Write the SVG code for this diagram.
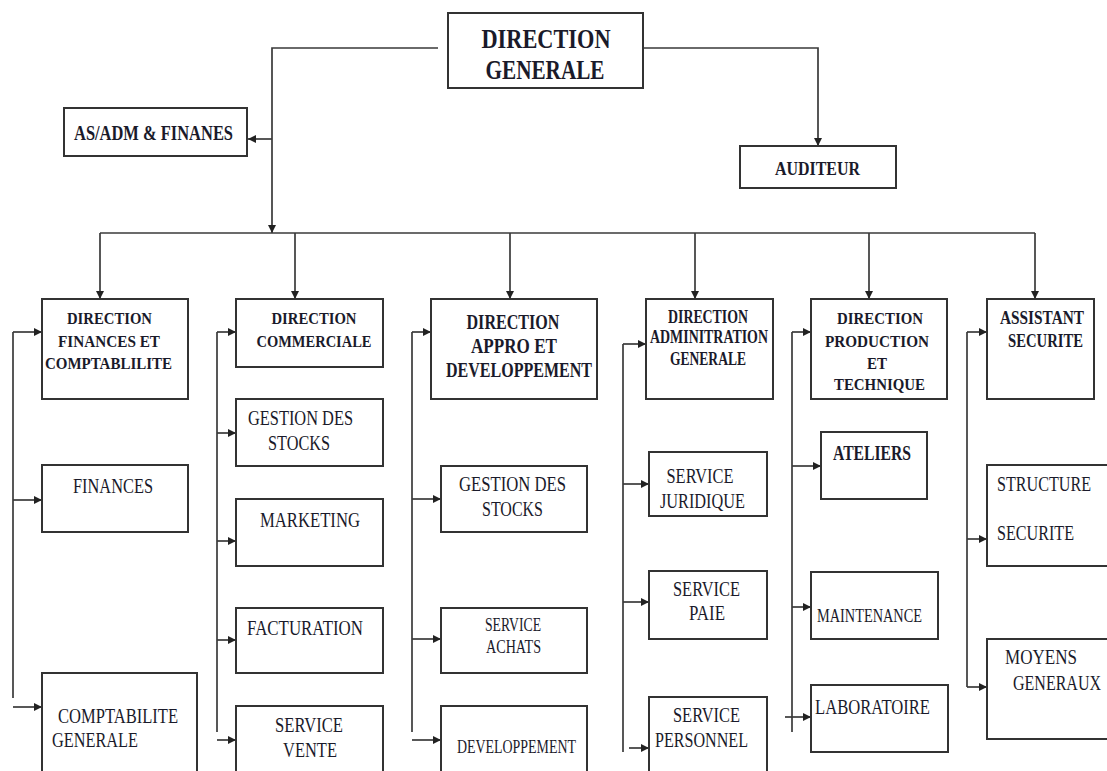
<svg xmlns="http://www.w3.org/2000/svg" width="1107" height="771" viewBox="0 0 1107 771">
<style>
.box{fill:#fff;stroke:#333;stroke-width:2}
.ln{fill:none;stroke:#3a3a3a;stroke-width:1.7}
.ar{marker-end:url(#ah)}
text{font-family:"Liberation Serif","Times New Roman",serif;fill:#1a1a2a}
.b{font-weight:bold}
.m{text-anchor:middle}
</style>
<defs>
<marker id="ah" markerUnits="userSpaceOnUse" markerWidth="9" markerHeight="9" refX="8" refY="4.5" orient="auto">
<path d="M0,0.5 L8,4.5 L0,8.5 z" fill="#222"/>
</marker>
</defs>
<rect width="1107" height="771" fill="#fff"/>

<g id="connectors">
<path class="ln" d="M438,48 H272 V233" marker-end="url(#ah)"/>
<path class="ln ar" d="M272,139 H248"/>
<path class="ln ar" d="M643,48 H818 V146"/>
<path class="ln" d="M100,233 H1035"/>
<path class="ln ar" d="M100,233 V299"/>
<path class="ln ar" d="M295,233 V299"/>
<path class="ln ar" d="M510,233 V299"/>
<path class="ln ar" d="M695,233 V299"/>
<path class="ln ar" d="M869,233 V299"/>
<path class="ln ar" d="M1035,233 V299"/>
<path class="ln" d="M13,698 V332"/>
<path class="ln ar" d="M13,332 H42"/>
<path class="ln ar" d="M13,500 H42"/>
<path class="ln ar" d="M13,707 H42"/>
<path class="ln" d="M217,732 V332"/>
<path class="ln ar" d="M217,332 H236"/>
<path class="ln ar" d="M217,433 H236"/>
<path class="ln ar" d="M217,541 H236"/>
<path class="ln ar" d="M217,640 H236"/>
<path class="ln ar" d="M217,740 H236"/>
<path class="ln" d="M412,732 V332"/>
<path class="ln ar" d="M412,332 H431"/>
<path class="ln ar" d="M412,499 H441"/>
<path class="ln ar" d="M412,639 H441"/>
<path class="ln ar" d="M412,740 H441"/>
<path class="ln" d="M623,752 V344"/>
<path class="ln ar" d="M623,344 H646"/>
<path class="ln ar" d="M623,484 H649"/>
<path class="ln ar" d="M623,602 H649"/>
<path class="ln ar" d="M629,748 H649"/>
<path class="ln" d="M792,732 V332"/>
<path class="ln ar" d="M792,332 H811"/>
<path class="ln ar" d="M792,466 H821"/>
<path class="ln ar" d="M792,607 H811"/>
<path class="ln ar" d="M785,717 H811"/>
<path class="ln" d="M967,687 V332"/>
<path class="ln ar" d="M967,332 H987"/>
<path class="ln ar" d="M967,539 H987"/>
<path class="ln ar" d="M967,687 H987"/>
</g>

<g id="dg"><rect class="box" x="448" y="13" width="195" height="75"/>
<text class="b m" x="546" y="48" font-size="27" textLength="129" lengthAdjust="spacingAndGlyphs">DIRECTION</text>
<text class="b m" x="545" y="79" font-size="27" textLength="119" lengthAdjust="spacingAndGlyphs">GENERALE</text></g>

<g id="asadm"><rect class="box" x="64" y="108" width="183" height="48"/>
<text class="b m" x="153.5" y="140" font-size="21" textLength="159" lengthAdjust="spacingAndGlyphs">AS/ADM &amp; FINANES</text></g>

<g id="auditeur"><rect class="box" x="740" y="146" width="156" height="42"/>
<text class="b m" x="817.5" y="175" font-size="19" textLength="85" lengthAdjust="spacingAndGlyphs">AUDITEUR</text></g>

<g id="dir-fin"><rect class="box" x="42" y="299" width="146" height="100"/>
<text class="b m" x="109.5" y="324" font-size="17" textLength="85" lengthAdjust="spacingAndGlyphs">DIRECTION</text>
<text class="b m" x="109" y="347" font-size="17" textLength="102" lengthAdjust="spacingAndGlyphs">FINANCES  ET</text>
<text class="b m" x="108.5" y="369" font-size="17" textLength="127" lengthAdjust="spacingAndGlyphs">COMPTABLILITE</text></g>

<g id="finances"><rect class="box" x="42" y="465" width="146" height="67"/>
<text class="m" x="113" y="493" font-size="22" textLength="80" lengthAdjust="spacingAndGlyphs">FINANCES</text></g>

<g id="comptabilite"><path class="box" d="M42,771 V673 H197 V771"/>
<text x="58" y="723" font-size="21" textLength="120" lengthAdjust="spacingAndGlyphs">COMPTABILITE</text>
<text x="52" y="747" font-size="21" textLength="86" lengthAdjust="spacingAndGlyphs">GENERALE</text></g>

<g id="dir-com"><rect class="box" x="236" y="299" width="147" height="68"/>
<text class="b m" x="314" y="324" font-size="17" textLength="85" lengthAdjust="spacingAndGlyphs">DIRECTION</text>
<text class="b m" x="314" y="347" font-size="17" textLength="115" lengthAdjust="spacingAndGlyphs">COMMERCIALE</text></g>

<g id="gestion-stocks-1"><rect class="box" x="236" y="399" width="147" height="67"/>
<text class="m" x="300.5" y="425" font-size="21" textLength="105" lengthAdjust="spacingAndGlyphs">GESTION DES</text>
<text class="m" x="299" y="450" font-size="21" textLength="62" lengthAdjust="spacingAndGlyphs">STOCKS</text></g>

<g id="marketing"><rect class="box" x="236" y="499" width="147" height="67"/>
<text class="m" x="310" y="527" font-size="22" textLength="100" lengthAdjust="spacingAndGlyphs">MARKETING</text></g>

<g id="facturation"><rect class="box" x="236" y="608" width="147" height="65"/>
<text class="m" x="305" y="635" font-size="22" textLength="116" lengthAdjust="spacingAndGlyphs">FACTURATION</text></g>

<g id="service-vente"><path class="box" d="M236,771 V706 H383 V771"/>
<text class="m" x="309" y="732" font-size="21" textLength="68" lengthAdjust="spacingAndGlyphs">SERVICE</text>
<text class="m" x="310" y="757" font-size="21" textLength="54" lengthAdjust="spacingAndGlyphs">VENTE</text></g>

<g id="dir-appro"><rect class="box" x="431" y="299" width="166" height="100"/>
<text class="b m" x="513" y="329" font-size="22" textLength="93" lengthAdjust="spacingAndGlyphs">DIRECTION</text>
<text class="b m" x="514" y="353" font-size="22" textLength="86" lengthAdjust="spacingAndGlyphs">APPRO  ET</text>
<text class="b m" x="519" y="377" font-size="22" textLength="146" lengthAdjust="spacingAndGlyphs">DEVELOPPEMENT</text></g>

<g id="gestion-stocks-2"><rect class="box" x="441" y="466" width="146" height="66"/>
<text class="m" x="512.5" y="491" font-size="21" textLength="107" lengthAdjust="spacingAndGlyphs">GESTION DES</text>
<text class="m" x="512.5" y="516" font-size="21" textLength="61" lengthAdjust="spacingAndGlyphs">STOCKS</text></g>

<g id="service-achats"><rect class="box" x="441" y="608" width="146" height="65"/>
<text class="m" x="513" y="631" font-size="19" textLength="56" lengthAdjust="spacingAndGlyphs">SERVICE</text>
<text class="m" x="513.5" y="653" font-size="19" textLength="55" lengthAdjust="spacingAndGlyphs">ACHATS</text></g>

<g id="developpement"><path class="box" d="M441,771 V706 H587 V771"/>
<text class="m" x="516.5" y="753" font-size="19" textLength="119" lengthAdjust="spacingAndGlyphs">DEVELOPPEMENT</text></g>

<g id="dir-adm"><rect class="box" x="646" y="299" width="127" height="100"/>
<text class="b m" x="708" y="323" font-size="18" textLength="80" lengthAdjust="spacingAndGlyphs">DIRECTION</text>
<text class="b m" x="709" y="343" font-size="18" textLength="118" lengthAdjust="spacingAndGlyphs">ADMINITRATION</text>
<text class="b m" x="708" y="365" font-size="18" textLength="76" lengthAdjust="spacingAndGlyphs">GENERALE</text></g>

<g id="service-juridique"><rect class="box" x="649" y="452" width="118" height="64"/>
<text class="m" x="700" y="483" font-size="21" textLength="67" lengthAdjust="spacingAndGlyphs">SERVICE</text>
<text class="m" x="702.5" y="508" font-size="21" textLength="85" lengthAdjust="spacingAndGlyphs">JURIDIQUE</text></g>

<g id="service-paie"><rect class="box" x="649" y="571" width="118" height="68"/>
<text class="m" x="706.5" y="596" font-size="21" textLength="67" lengthAdjust="spacingAndGlyphs">SERVICE</text>
<text class="m" x="707" y="620" font-size="21" textLength="36" lengthAdjust="spacingAndGlyphs">PAIE</text></g>

<g id="service-personnel"><path class="box" d="M649,771 V697 H767 V771"/>
<text class="m" x="706.5" y="722" font-size="21" textLength="67" lengthAdjust="spacingAndGlyphs">SERVICE</text>
<text class="m" x="701.5" y="747" font-size="21" textLength="93" lengthAdjust="spacingAndGlyphs">PERSONNEL</text></g>

<g id="dir-prod"><rect class="box" x="811" y="299" width="136" height="100"/>
<text class="b m" x="880" y="324" font-size="17" textLength="86" lengthAdjust="spacingAndGlyphs">DIRECTION</text>
<text class="b m" x="877" y="347" font-size="17" textLength="104" lengthAdjust="spacingAndGlyphs">PRODUCTION</text>
<text class="b m" x="877" y="369" font-size="17" textLength="20" lengthAdjust="spacingAndGlyphs">ET</text>
<text class="b m" x="879.5" y="390" font-size="17" textLength="91" lengthAdjust="spacingAndGlyphs">TECHNIQUE</text></g>

<g id="ateliers"><rect class="box" x="821" y="432" width="106" height="67"/>
<text class="b m" x="872" y="460" font-size="20" textLength="78" lengthAdjust="spacingAndGlyphs">ATELIERS</text></g>

<g id="maintenance"><rect class="box" x="811" y="572" width="127" height="67"/>
<text x="817" y="622" font-size="19" textLength="105" lengthAdjust="spacingAndGlyphs">MAINTENANCE</text></g>

<g id="laboratoire"><rect class="box" x="811" y="685" width="137" height="67"/>
<text x="815" y="714" font-size="21" textLength="115" lengthAdjust="spacingAndGlyphs">LABORATOIRE</text></g>

<g id="assistant-securite"><rect class="box" x="987" y="299" width="107" height="100"/>
<text class="b m" x="1042" y="324" font-size="18" textLength="84" lengthAdjust="spacingAndGlyphs">ASSISTANT</text>
<text class="b m" x="1045.5" y="347" font-size="18" textLength="75" lengthAdjust="spacingAndGlyphs">SECURITE</text></g>

<g id="structure-securite"><path class="box" d="M1107,465 H987 V566 H1107"/>
<text x="997" y="491" font-size="21" textLength="94" lengthAdjust="spacingAndGlyphs">STRUCTURE</text>
<text x="997" y="540" font-size="21" textLength="77" lengthAdjust="spacingAndGlyphs">SECURITE</text></g>

<g id="moyens-generaux"><path class="box" d="M1107,639 H987 V739 H1107"/>
<text x="1005" y="664" font-size="20" textLength="72" lengthAdjust="spacingAndGlyphs">MOYENS</text>
<text x="1013" y="690" font-size="20" textLength="88" lengthAdjust="spacingAndGlyphs">GENERAUX</text></g>
</svg>
